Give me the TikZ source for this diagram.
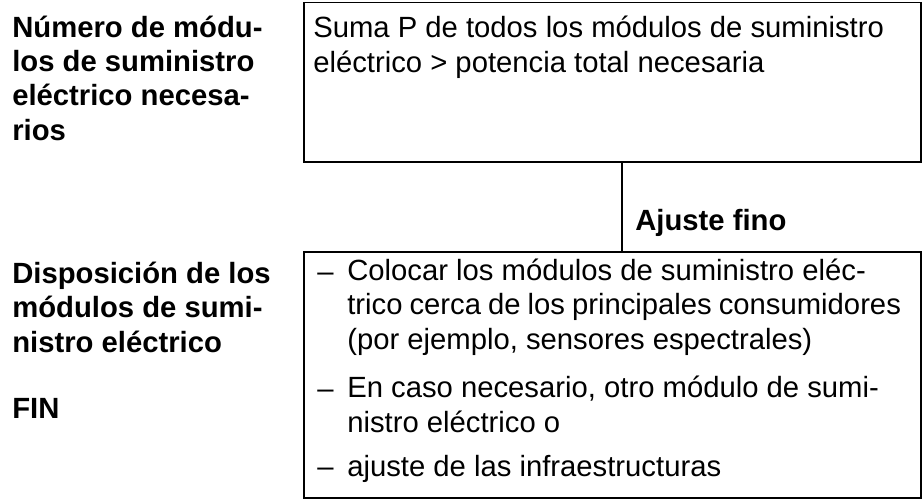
\documentclass[tikz,border=0pt]{standalone}
\usepackage{fontspec}
\setmainfont{Liberation Sans}
\usetikzlibrary{calc}

\tikzset{
  lbl/.style={anchor=base west, inner sep=0pt, align=left, font=\fontsize{20.8}{24.2}\selectfont\bfseries},
  txt/.style={anchor=base west, inner sep=0pt, align=left, font=\fontsize{20.8}{24.2}\selectfont},
  frame/.style={draw, line width=1.4pt, anchor=north west, inner sep=0pt},
}

\begin{document}
\begin{tikzpicture}[x=0.025cm, y=-0.025cm]
		%%%%% START %%%%%
		\useasboundingbox (0,0) rectangle (922,502);
		
		\node[frame, minimum width=15.425cm, minimum height=3.99cm] (sumabox) at (303,1.5) {};
		\node[frame, minimum width=15.425cm, minimum height=6.15cm] (ajustebox) at (303,251) {};
		
		% base anchor of a multi-line node sits on its last line
		\node[lbl] (numlbl) at (12,140) {Número de módu-\\los de suministro\\eléctrico necesa-\\rios};
		\node[txt] (suma) at (313,72) {Suma P de todos los módulos de suministro\\eléctrico > potencia total necesaria};
		
		\coordinate (tap) at (622,0);
		\draw[line width=1.4pt] (sumabox.south -| tap) -- (ajustebox.north -| tap);
		\node[lbl] (ajuste) at (635,230) {Ajuste fino};
		
		\node[lbl] (displbl) at (12,352) {Disposición de los\\módulos de sumi-\\nistro eléctrico};
		\node[lbl] (fin) at (12,418) {FIN};
		
		\node[txt] (d1) at (317,281) {–};
		\node[txt] (item1) at (347,349) {Colocar los módulos de suministro eléc-\\{\spaceskip=0.24em\relax trico cerca de los principales consumidores}\\(por ejemplo, sensores espectrales)};
		\node[txt] (d2) at (317,398) {–};
		\node[txt] (item2) at (347,432) {En caso necesario, otro módulo de sumi-\\nistro eléctrico o};
		\node[txt] (d3) at (317,476) {–};
		\node[txt] (item3) at (347,476) {ajuste de las infraestructuras};
		
		%%%%% END %%%%%
\end{tikzpicture}
\end{document}
